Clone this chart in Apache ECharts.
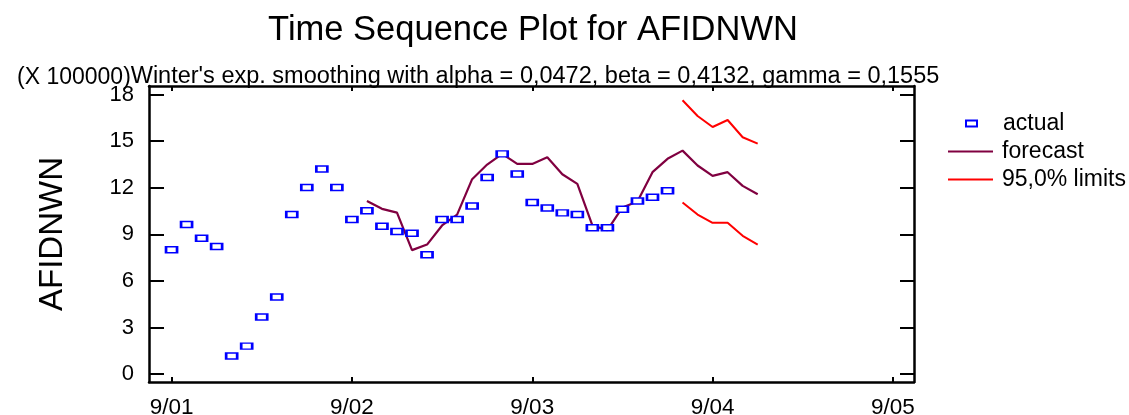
<!DOCTYPE html>
<html>
<head>
<meta charset="utf-8">
<script src="https://cdn.jsdelivr.net/npm/echarts@6/dist/echarts.min.js"></script>
<style>
  html, body { margin: 0; padding: 0; background: #ffffff; }
  #chart { width: 1129px; height: 415px; }
</style>
</head>
<body>
<div id="chart"></div>
<script>
// Period labels on the time axis, one every 12 months
const periodLabels = ['9/01', '9/02', '9/03', '9/04', '9/05'];
const monthsPerPeriod = 12;

// Observed values (units of 100000), one per month starting at 9/01
const actual = [
  8.0, 9.63, 8.75, 8.22, 1.16, 1.8, 3.67, 4.96, 10.27, 12.01, 13.21, 12.01,
  9.95, 10.51, 9.52, 9.18, 9.07, 7.68, 9.95, 9.95, 10.83, 12.66, 14.18, 12.89,
  11.05, 10.70, 10.38, 10.27, 9.42, 9.42, 10.62, 11.15, 11.39, 11.80
];

// One-step-ahead forecasts, starting at month index 13
const forecastStart = 13;
const forecast = [
  11.15, 10.64, 10.40, 7.98, 8.34, 9.57, 10.27, 12.55, 13.49, 14.18, 13.53,
  13.53, 13.96, 12.87, 12.25, 9.57, 9.27, 10.73, 11.11, 13.0, 13.86,
  14.39, 13.43, 12.76, 13.0, 12.12, 11.58
];

// 95% forecast limits beyond the end of the data, starting at month index 34
const limitsStart = 34;
const upperLimit = [17.63, 16.62, 15.91, 16.36, 15.25, 14.84];
const lowerLimit = [11.05, 10.27, 9.74, 9.74, 8.90, 8.34];

// Y axis tick values
const yTicks = [0, 3, 6, 9, 12, 15, 18];

const xTicks = periodLabels.map((_, i) => i * monthsPerPeriod);
const toPairs = (vals, start) => vals.map((v, i) => [start + i, v]);

const FONT = 'Liberation Sans, Arial, sans-serif';
const BLACK = '#000000';
const MAROON = '#800040';
const RED = '#ff0000';

const chart = echarts.init(document.getElementById('chart'), null, { renderer: 'canvas' });

const frameLine = { show: true, onZero: false, lineStyle: { color: BLACK, width: 2.5 } };

chart.setOption({
  backgroundColor: '#ffffff',
  animation: false,
  title: [
    {
      text: 'Time Sequence Plot for AFIDNWN',
      left: 528, top: 8, textAlign: 'center',
      textStyle: { fontFamily: FONT, fontSize: 34.5, fontWeight: 'normal', color: BLACK }
    },
    {
      text: "Winter's exp. smoothing with alpha = 0,0472, beta = 0,4132, gamma = 0,1555",
      left: 530, top: 60, textAlign: 'center',
      textStyle: { fontFamily: FONT, fontSize: 23.5, fontWeight: 'normal', color: BLACK }
    },
    {
      text: '(X 100000)',
      left: 12, top: 61,
      textStyle: { fontFamily: FONT, fontSize: 23, fontWeight: 'normal', color: BLACK }
    }
  ],
  legend: [
    {
      data: ['actual'],
      orient: 'vertical', left: 960, top: 107,
      itemWidth: 11, itemHeight: 6, itemGap: 5,
      selectedMode: false,
      textStyle: { fontFamily: FONT, fontSize: 23, color: BLACK, padding: [0, 0, 0, 21] }
    },
    {
      data: [
        { name: 'forecast', icon: 'rect' },
        { name: '95,0% limits', icon: 'rect' }
      ],
      orient: 'vertical', left: 943, top: 135,
      itemWidth: 45, itemHeight: 2, itemGap: 5,
      selectedMode: false,
      textStyle: { fontFamily: FONT, fontSize: 23, color: BLACK, padding: [0, 0, 0, 4] }
    }
  ],
  grid: {
    left: 149, right: 215, top: 86, bottom: 33,
    outerBoundsMode: 'none'
  },
  xAxis: [
    {
      type: 'value', position: 'bottom',
      min: -1.5, max: 49.4,
      axisLine: frameLine,
      axisTick: { show: true, inside: true, length: 5, customValues: xTicks,
                  lineStyle: { color: BLACK, width: 2 } },
      axisLabel: { show: true, customValues: xTicks, margin: 14,
                   formatter: v => periodLabels[Math.round(v / monthsPerPeriod)],
                   fontFamily: FONT, fontSize: 22.5, color: BLACK },
      splitLine: { show: false }
    },
    {
      type: 'value', position: 'top',
      min: -1.5, max: 49.4,
      axisLine: frameLine,
      axisTick: { show: true, inside: true, length: 5, customValues: xTicks,
                  lineStyle: { color: BLACK, width: 2 } },
      axisLabel: { show: false },
      splitLine: { show: false }
    }
  ],
  yAxis: [
    {
      type: 'value', position: 'left',
      min: -0.51, max: 18.55,
      name: 'AFIDNWN', nameLocation: 'middle', nameRotate: 90, nameGap: 80,
      nameTextStyle: { fontFamily: FONT, fontSize: 33, color: BLACK },
      axisLine: frameLine,
      axisTick: { show: true, inside: true, length: 15, customValues: yTicks,
                  lineStyle: { color: BLACK, width: 2 } },
      axisLabel: { show: true, customValues: yTicks, margin: 15,
                   fontFamily: FONT, fontSize: 22, color: BLACK },
      splitLine: { show: false }
    },
    {
      type: 'value', position: 'right',
      min: -0.51, max: 18.55,
      axisLine: frameLine,
      axisTick: { show: true, inside: true, length: 14, customValues: yTicks,
                  lineStyle: { color: BLACK, width: 2 } },
      axisLabel: { show: false },
      splitLine: { show: false }
    }
  ],
  series: [
    {
      name: 'forecast', type: 'line',
      data: toPairs(forecast, forecastStart),
      symbol: 'none', showSymbol: false,
      lineStyle: { color: MAROON, width: 2.2 },
      itemStyle: { color: MAROON },
      z: 2
    },
    {
      name: '95,0% limits', type: 'line',
      data: toPairs(upperLimit, limitsStart),
      symbol: 'none', showSymbol: false,
      lineStyle: { color: RED, width: 2 },
      itemStyle: { color: RED },
      z: 2
    },
    {
      name: '95,0% limits', type: 'line',
      data: toPairs(lowerLimit, limitsStart),
      symbol: 'none', showSymbol: false,
      lineStyle: { color: RED, width: 2 },
      itemStyle: { color: RED },
      z: 2
    },
    {
      name: 'actual', type: 'scatter',
      data: toPairs(actual, 0),
      symbol: 'rect', symbolSize: [11, 6],
      itemStyle: { color: '#ffffff', borderColor: '#0000ff', borderWidth: 2, opacity: 1 },
      z: 3
    }
  ]
});
</script>
</body>
</html>
